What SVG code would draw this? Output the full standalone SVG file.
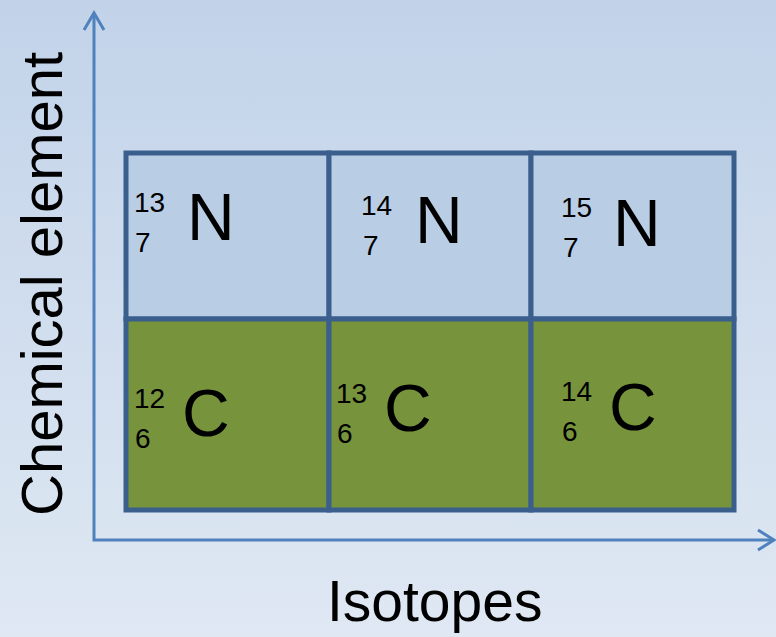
<svg xmlns="http://www.w3.org/2000/svg" width="776" height="637" viewBox="0 0 776 637">
<defs>
<linearGradient id="bg" x1="0" y1="0" x2="0" y2="1">
<stop offset="0" stop-color="#C2D3E9"/>
<stop offset="1" stop-color="#DFE8F3"/>
</linearGradient>
</defs>
<style>
.n{fill:#B9CDE5;stroke:#3A5F8D;stroke-width:5}
.c{fill:#77933C;stroke:#3A5F8D;stroke-width:5}
.sym{font-family:"Liberation Sans",Arial,sans-serif;font-size:66px;fill:#000}
.num{font-family:"Liberation Sans",Arial,sans-serif;font-size:28px;fill:#000}
.lbl{font-family:"Liberation Sans",Arial,sans-serif;font-size:57px;fill:#000}
.axis{fill:none;stroke:#4F81BD;stroke-width:3}
</style>
<rect width="776" height="637" fill="url(#bg)"/>
<g id="connectors">
<path class="axis" d="M94,13 V540 H774"/>
<path class="axis" d="M84,30 L94,13 L104,30"/>
<path class="axis" d="M758,530 L774,540 L758,550"/>
</g>
<g id="cell-N13">
<rect class="n" x="126" y="153" width="203" height="166"/>
<text class="num" x="134" y="212">13</text>
<text class="num" x="135" y="252">7</text>
<text class="sym" x="187" y="240">N</text>
</g>
<g id="cell-N14">
<rect class="n" x="329" y="153" width="202" height="166"/>
<text class="num" x="361" y="215">14</text>
<text class="num" x="363" y="255">7</text>
<text class="sym" x="415" y="243">N</text>
</g>
<g id="cell-N15">
<rect class="n" x="531" y="153" width="203" height="166"/>
<text class="num" x="561" y="217">15</text>
<text class="num" x="563" y="257">7</text>
<text class="sym" x="613" y="246">N</text>
</g>
<g id="cell-C12">
<rect class="c" x="126" y="319" width="203" height="191"/>
<text class="num" x="134" y="408">12</text>
<text class="num" x="135" y="448">6</text>
<text class="sym" x="182" y="436">C</text>
</g>
<g id="cell-C13">
<rect class="c" x="329" y="319" width="202" height="191"/>
<text class="num" x="336" y="403">13</text>
<text class="num" x="337" y="443">6</text>
<text class="sym" x="384" y="431">C</text>
</g>
<g id="cell-C14">
<rect class="c" x="531" y="319" width="203" height="191"/>
<text class="num" x="561" y="401">14</text>
<text class="num" x="562" y="441">6</text>
<text class="sym" x="609" y="430">C</text>
</g>
<g id="label-x">
<text class="lbl" x="327" y="621">Isotopes</text>
</g>
<g id="label-y">
<text class="lbl" transform="translate(62,516) rotate(-90)" style="font-size:58px">Chemical element</text>
</g>
</svg>
